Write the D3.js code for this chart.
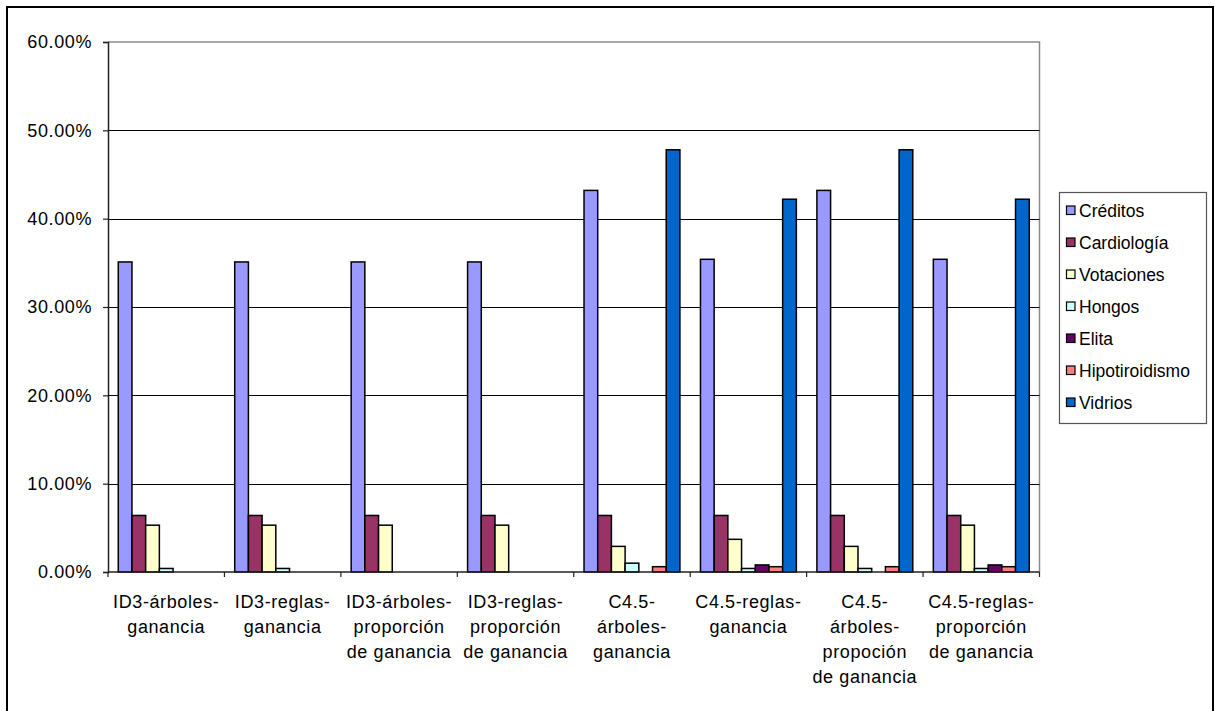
<!DOCTYPE html>
<html>
<head>
<meta charset="utf-8">
<script src="https://cdn.jsdelivr.net/npm/d3@7"></script>
<style>
  html, body { margin: 0; padding: 0; background: #fff; }
  svg { display: block; font-family: Arial, "Liberation Sans", sans-serif; }
</style>
</head>
<body>
<svg id="chart" width="1215" height="711"></svg>
<script>
// Error rates per algorithm / criterion, one array per dataset (fractions)
const categories = [
  ["ID3-árboles-", "ganancia"],
  ["ID3-reglas-", "ganancia"],
  ["ID3-árboles-", "proporción", "de ganancia"],
  ["ID3-reglas-", "proporción", "de ganancia"],
  ["C4.5-", "árboles-", "ganancia"],
  ["C4.5-reglas-", "ganancia"],
  ["C4.5-", "árboles-", "propoción", "de ganancia"],
  ["C4.5-reglas-", "proporción", "de ganancia"]
];
const seriesNames = ["Créditos", "Cardiología", "Votaciones", "Hongos", "Elita", "Hipotiroidismo", "Vidrios"];
const creditos       = [0.351, 0.351, 0.351, 0.351, 0.432, 0.354, 0.432, 0.354];
const cardiologia    = [0.064, 0.064, 0.064, 0.064, 0.064, 0.064, 0.064, 0.064];
const votaciones     = [0.053, 0.053, 0.053, 0.053, 0.029, 0.037, 0.029, 0.053];
const hongos         = [0.004, 0.004, 0.000, 0.000, 0.010, 0.004, 0.004, 0.004];
const elita          = [0.000, 0.000, 0.000, 0.000, 0.000, 0.008, 0.000, 0.008];
const hipotiroidismo = [0.000, 0.000, 0.000, 0.000, 0.006, 0.006, 0.006, 0.006];
const vidrios        = [0.000, 0.000, 0.000, 0.000, 0.478, 0.422, 0.478, 0.422];
const seriesColors = ["#9999FF", "#993366", "#FFFFCC", "#CCFFFF", "#660066", "#FF8080", "#0066CC"];
const yTicks = [0, 0.1, 0.2, 0.3, 0.4, 0.5, 0.6];

const seriesValues = [creditos, cardiologia, votaciones, hongos, elita, hipotiroidismo, vidrios];

const svg = d3.select("#chart");

// outer chart frame (bottom edge runs off the page)
svg.append("rect")
  .attr("x", 7).attr("y", 7).attr("width", 1206).attr("height", 720)
  .attr("fill", "#fff").attr("stroke", "#000").attr("stroke-width", 2);

const plot = { left: 108, right: 1039.5, top: 42, bottom: 572 };

const x0 = d3.scaleBand()
  .domain(d3.range(categories.length))
  .range([plot.left, plot.right])
  .paddingInner(0).paddingOuter(0);

// 7 bars per group, gap of 1.5 bar widths between groups
const x1 = d3.scaleBand()
  .domain(d3.range(seriesNames.length))
  .range([0, x0.bandwidth()])
  .paddingInner(0)
  .paddingOuter(0.75);

const y = d3.scaleLinear().domain([0, 0.6]).range([plot.bottom, plot.top]);

// plot area border (gray) on top/right
svg.append("path")
  .attr("d", `M${plot.left},${plot.top}H${plot.right}V${plot.bottom}`)
  .attr("fill", "none").attr("stroke", "#8c8c8c").attr("stroke-width", 1.5);

// horizontal gridlines
svg.append("g").selectAll("line")
  .data(yTicks.filter(t => t > 0 && t < 0.6))
  .join("line")
  .attr("x1", plot.left).attr("x2", plot.right)
  .attr("y1", d => Math.round(y(d)) + 0.5).attr("y2", d => Math.round(y(d)) + 0.5)
  .attr("stroke", "#000").attr("stroke-width", 1);

// bars
const groups = svg.append("g").selectAll("g")
  .data(categories.map((c, i) => i))
  .join("g")
  .attr("transform", i => `translate(${x0(i)},0)`);

groups.selectAll("rect")
  .data(i => seriesValues.map((vals, s) => ({ s, v: vals[i] })).filter(d => d.v > 0))
  .join("rect")
  .attr("x", d => x1(d.s))
  .attr("width", x1.bandwidth())
  .attr("y", d => y(d.v))
  .attr("height", d => y(0) - y(d.v))
  .attr("fill", d => seriesColors[d.s])
  .attr("stroke", "#000").attr("stroke-width", 1.5);

// y axis
const yAxis = d3.axisLeft(y)
  .tickValues(yTicks)
  .tickFormat(d => (d * 100).toFixed(2) + "%")
  .tickSize(5).tickPadding(11);
const gy = svg.append("g")
  .attr("transform", `translate(${plot.left},0)`)
  .call(yAxis);
gy.select(".domain").attr("stroke", "#222").attr("stroke-width", 1.5);
gy.selectAll(".tick line").attr("stroke", "#222").attr("stroke-width", 1.2);
gy.selectAll(".tick text")
  .attr("font-size", 18).attr("fill", "#000")
  .attr("font-family", "Arial, 'Liberation Sans', sans-serif")
  .attr("letter-spacing", 0.6);

// x axis: boundary ticks between categories
const xBounds = d3.range(categories.length + 1).map(i =>
  i < categories.length ? x0(i) : x0(categories.length - 1) + x0.bandwidth());
svg.append("line")
  .attr("x1", plot.left).attr("x2", plot.right)
  .attr("y1", plot.bottom).attr("y2", plot.bottom)
  .attr("stroke", "#222").attr("stroke-width", 1.5);
svg.append("g").selectAll("line")
  .data(xBounds)
  .join("line")
  .attr("x1", d => d).attr("x2", d => d)
  .attr("y1", plot.bottom).attr("y2", plot.bottom + 5)
  .attr("stroke", "#222").attr("stroke-width", 1.2);

// category labels (multi-line)
const labels = svg.append("g").selectAll("text")
  .data(categories)
  .join("text")
  .attr("text-anchor", "middle")
  .attr("font-size", 18)
  .attr("letter-spacing", 0.6)
  .attr("fill", "#000")
  .attr("transform", (d, i) => `translate(${x0(i) + x0.bandwidth() / 2},${plot.bottom + 36})`);
labels.selectAll("tspan")
  .data(d => d)
  .join("tspan")
  .attr("x", 0)
  .attr("y", (d, j) => j * 25)
  .text(d => d);

// legend
const legend = svg.append("g");
legend.append("rect")
  .attr("x", 1059.5).attr("y", 192.5).attr("width", 147).attr("height", 231)
  .attr("fill", "#fff").attr("stroke", "#555").attr("stroke-width", 1.2);
const items = legend.selectAll("g.item")
  .data(seriesNames)
  .join("g")
  .attr("class", "item")
  .attr("transform", (d, i) => `translate(1066,${210 + i * 32})`);
items.append("rect")
  .attr("x", 0.5).attr("y", -4).attr("width", 8.5).attr("height", 8.5)
  .attr("fill", (d, i) => seriesColors[i])
  .attr("stroke", "#000").attr("stroke-width", 1.2);
items.append("text")
  .attr("x", 13).attr("y", 6.5)
  .attr("font-size", 17.5)
  .attr("fill", "#000")
  .text(d => d);
</script>
</body>
</html>
